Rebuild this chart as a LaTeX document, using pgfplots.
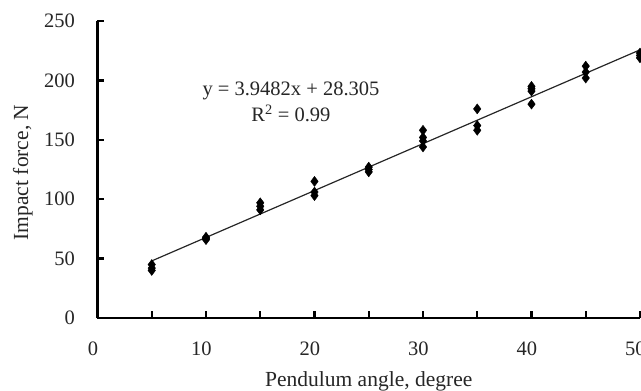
\documentclass[border=0pt]{standalone}
\usepackage{fontspec}
\setmainfont{Liberation Serif}
\usepackage{pgfplots}
\pgfplotsset{compat=1.18}
\newcommand{\fs}{\fontsize{20.5}{24}\selectfont}
\begin{document}
\begin{tikzpicture}
\begin{axis}[
  at={(0,0)}, anchor=south west,
  scale only axis, width=542.5pt, height=297pt,
  xmin=0, xmax=50, ymin=0, ymax=250,
  axis lines=left,
  axis line style={-, line width=2.6pt, black},
  xtick={0,10,20,30,40,50},
  minor xtick={5,15,25,35,45},
  ytick={0,50,100,150,200,250},
  tick align=inside,
  major tick length=7pt, minor tick length=7pt,
  every tick/.style={line width=2.2pt, black},
  minor tick style={line width=2.2pt, black},
  /pgf/number format/assume math mode=true,
  ticklabel style={font=\fs, text=black!85},
  xticklabel style={xshift=-4.5pt},
  xticklabel shift=20pt,
  yticklabel shift=19pt,
  xlabel={Pendulum angle, degree},
  ylabel={Impact force, N},
  label style={font=\fontsize{21.5}{25}\selectfont, text=black!85},
  xlabel style={at={(axis description cs:0.5,0)}, anchor=base, yshift=-68pt},
  ylabel style={at={(axis description cs:-0.128,0.49)}, anchor=base},
  clip=false,
]
\addplot[black!85, line width=1.2pt] coordinates {(5,48.046) (50,225.715)};
\addplot[only marks, mark=diamond*, mark size=5pt, black] coordinates {
  (5,45) (5,42) (5,40)
  (10,68) (10,67) (10,66)
  (15,97) (15,94) (15,91)
  (20,115) (20,106) (20,103)
  (25,127) (25,125) (25,123)
  (30,158) (30,152) (30,149) (30,144)
  (35,176) (35,162) (35,158)
  (40,195) (40,193) (40,191) (40,180)
  (45,212) (45,207) (45,202)
  (50,223) (50,221) (50,219)
};
\node[anchor=base, font=\fs, text=black!85] at (axis cs:17.83,187.7) {y = 3.9482x + 28.305};
\node[anchor=base, font=\fs, text=black!85] at (axis cs:17.83,165.2) {R\textsuperscript{2} = 0.99};
\end{axis}
\pgfresetboundingbox
\useasboundingbox (-97.5pt,-73pt) rectangle (543.5pt,318pt);
\end{tikzpicture}
\end{document}
